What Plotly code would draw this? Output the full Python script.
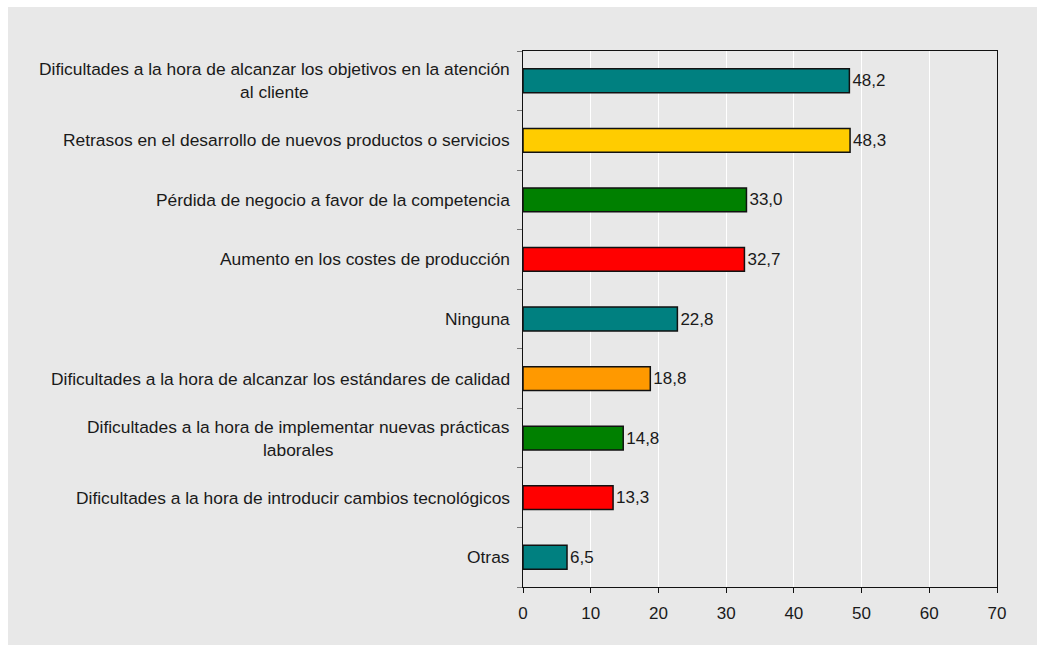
import plotly.graph_objects as go

# Survey responses, top to bottom
categories = [
    "Dificultades a la hora de alcanzar los objetivos en la atención<br>al cliente",
    "Retrasos en el desarrollo de nuevos productos o servicios",
    "Pérdida de negocio a favor de la competencia",
    "Aumento en los costes de producción",
    "Ninguna",
    "Dificultades a la hora de alcanzar los estándares de calidad",
    "Dificultades a la hora de implementar nuevas prácticas<br>laborales",
    "Dificultades a la hora de introducir cambios tecnológicos",
    "Otras",
]
values = [48.2, 48.3, 33.0, 32.7, 22.8, 18.8, 14.8, 13.3, 6.5]
bar_colors = ["#008080", "#FFCC00", "#008000", "#FF0000", "#008080",
              "#FF9900", "#008000", "#FF0000", "#008080"]
x_ticks = [0, 10, 20, 30, 40, 50, 60, 70]

W, H = 1037, 645
ML, MR, MT, MB = 523, 40, 51, 58
PW, PH = W - ML - MR, H - MT - MB
BG = "#E8E8E8"
FONT = "Liberation Sans, Arial, sans-serif"
TXT = "#1a1a1a"

fig = go.Figure(
    go.Bar(
        x=values,
        y=list(range(len(categories))),
        orientation="h",
        marker=dict(color=bar_colors, line=dict(color="#111111", width=1.5)),
        texttemplate="%{x:.1f}",
        textposition="outside",
        textfont=dict(family=FONT, size=17, color=TXT),
        cliponaxis=False,
        hoverinfo="skip",
    )
)

# category labels, centred line by line, right-aligned against the axis
for i, lab in enumerate(categories):
    fig.add_annotation(
        x=0, xref="paper", y=i, yref="y",
        text=lab, showarrow=False,
        xanchor="right", align="center", xshift=-11,
        font=dict(family=FONT, size=17.4, color=TXT),
    )

# thin white border along the top and left of the grey panel
fig.add_shape(
    type="rect", xref="paper", yref="paper", layer="below",
    x0=-(ML + 20) / PW, x1=(W - ML + 20) / PW,
    y0=(H - MB - 7) / PH, y1=(H - MB + 20) / PH,
    fillcolor="white", line=dict(width=0),
)
fig.add_shape(
    type="rect", xref="paper", yref="paper", layer="below",
    x0=-(ML + 20) / PW, x1=-(ML - 8) / PW,
    y0=-(MB + 20) / PH, y1=(H - MB + 20) / PH,
    fillcolor="white", line=dict(width=0),
)

fig.update_layout(
    width=W, height=H,
    margin=dict(l=ML, r=MR, t=MT, b=MB),
    paper_bgcolor=BG,
    plot_bgcolor=BG,
    separators=",.",
    bargap=0.6,
    showlegend=False,
    hovermode=False,
    font=dict(family=FONT, size=17, color=TXT),
)
fig.update_xaxes(
    range=[0, 70], tickvals=x_ticks,
    showgrid=True, gridcolor="white", gridwidth=1,
    showline=True, linecolor="#111111", linewidth=1, mirror=True,
    ticks="outside", ticklen=5, tickcolor="#111111",
    ticklabelstandoff=6,
    tickfont=dict(family=FONT, size=17, color=TXT),
    zeroline=False, fixedrange=True,
)
fig.update_yaxes(
    type="linear", range=[len(categories) - 0.5, -0.5],
    tickvals=[i - 0.5 for i in range(len(categories) + 1)],
    showticklabels=False, showgrid=False,
    showline=True, linecolor="#111111", linewidth=1, mirror=True,
    ticks="outside", ticklen=5, tickcolor="#777777",
    zeroline=False, fixedrange=True,
)

fig.write_html("out.html", config={"displayModeBar": False})
